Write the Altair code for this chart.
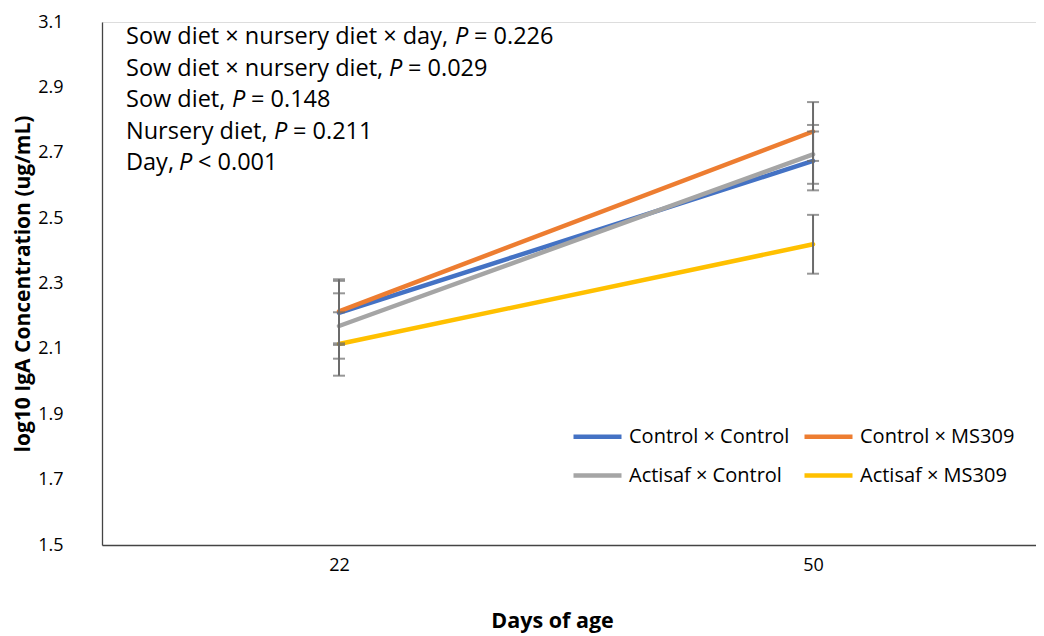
import altair as alt
import pandas as pd

# ---------------- data ----------------
days = [22, 50]
groups = ["Control × Control", "Control × MS309", "Actisaf × Control", "Actisaf × MS309"]
colors = ["#4472C4", "#ED7D31", "#A5A5A5", "#FFC000"]
mean_cc = [2.21, 2.675]
mean_cm = [2.215, 2.765]
mean_ac = [2.17, 2.695]
mean_am = [2.115, 2.42]
se_cc = [0.098, 0.09]
se_cm = [0.098, 0.09]
se_ac = [0.10, 0.09]
se_am = [0.097, 0.09]
y_ticks = [1.5, 1.7, 1.9, 2.1, 2.3, 2.5, 2.7, 2.9, 3.1]
stat_terms = ["Sow diet × nursery diet × day", "Sow diet × nursery diet", "Sow diet",
              "Nursery diet", "Day"]
stat_ops = ["=", "=", "=", "=", "<"]
stat_vals = ["0.226", "0.029", "0.148", "0.211", "0.001"]

means = [mean_cc, mean_cm, mean_ac, mean_am]
ses = [se_cc, se_cm, se_ac, se_am]
rows = []
for gi, (g, m, s) in enumerate(zip(groups, means, ses)):
    for d, mv, sv in zip(days, m, s):
        rows.append({"group": g, "gi": gi, "day": d, "mean": mv, "lo": mv - sv, "hi": mv + sv})
df = pd.DataFrame(rows)

FONT = "Open Sans"
W, H = 934, 523

xscale = alt.Scale(domain=[8, 63.17], nice=False, zero=False)
yscale = alt.Scale(domain=[1.5, 3.1], nice=False, zero=False)
xaxis = alt.Axis(values=days, title="Days of age", grid=False, ticks=False, tickSize=0,
                 labelFontSize=18, labelPadding=11, labelFont=FONT, labelColor="#000",
                 titleFont=FONT, titleFontSize=21.5, titleFontWeight="bold", titleColor="#000",
                 titleX=450, titleY=82, titleBaseline="alphabetic", titleAlign="center",
                 domainColor="#444", domainWidth=1.3)
yaxis = alt.Axis(values=y_ticks, format=".1f", title="log10 IgA Concentration (ug/mL)",
                 grid=False, ticks=False, tickSize=0, labelFontSize=18, labelPadding=39,
                 labelFont=FONT, labelColor="#000", titleFont=FONT, titleFontSize=21,
                 titleFontWeight="bold", titleColor="#000", titleX=-73, titleY=H / 2,
                 titleBaseline="alphabetic", titleAlign="center", titleAngle=-90,
                 domainColor="#444", domainWidth=1.3)

base = alt.Chart(df)

lines = base.mark_line(strokeWidth=4.5, strokeCap="round").encode(
    x=alt.X("day:Q", scale=xscale, axis=xaxis),
    y=alt.Y("mean:Q", scale=yscale, axis=yaxis),
    color=alt.Color("group:N", scale=alt.Scale(domain=groups, range=colors),
                    legend=alt.Legend(orient="none", legendX=469, legendY=388, columns=2,
                                      direction="horizontal",
                                      symbolType="stroke", symbolStrokeWidth=4.5,
                                      symbolSize=2304, labelFontSize=20, labelFont=FONT,
                                      labelColor="#000", title=None, columnPadding=5,
                                      rowPadding=2, padding=0, labelOffset=5,
                                      labelLimit=300)),
    order=alt.Order("day:Q"),
)

ebars = base.mark_errorbar(ticks=True, color="#6b6b6b", thickness=2, size=12).encode(
    x=alt.X("day:Q", scale=xscale, axis=xaxis),
    y=alt.Y("lo:Q", scale=yscale, axis=yaxis),
    y2="hi:Q",
)

layers = [lines, ebars]

p_x = [455, 389, 232, 274, 179]
line_y = [37, 68.5, 100, 131.5, 163]
for term, op, val, px, ly in zip(stat_terms, stat_ops, stat_vals, p_x, line_y):
    yy = ly - 22
    t1 = alt.Chart(pd.DataFrame({"t": [term + ","]})).mark_text(
        align="left", baseline="middle", font=FONT, fontSize=23.5, color="#000"
    ).encode(text="t:N", x=alt.value(126 - 102), y=alt.value(yy))
    t2 = alt.Chart(pd.DataFrame({"t": ["P"]})).mark_text(
        align="left", baseline="middle", font=FONT, fontSize=23.5, fontStyle="italic", color="#000"
    ).encode(text="t:N", x=alt.value(px - 102), y=alt.value(yy))
    t3 = alt.Chart(pd.DataFrame({"t": [op + " " + val]})).mark_text(
        align="left", baseline="middle", font=FONT, fontSize=23.5, color="#000"
    ).encode(text="t:N", x=alt.value(px - 102 + 19), y=alt.value(yy))
    layers += [t1, t2, t3]

chart = alt.layer(*layers).properties(
    width=W, height=H,
    autosize=alt.AutoSizeParams(type="none"),
    padding={"left": 94, "top": 14, "right": 0, "bottom": 88},
).configure_view(stroke=None).configure(background="white")

chart.save("out.html", embed_options={"renderer": "svg", "actions": False})
